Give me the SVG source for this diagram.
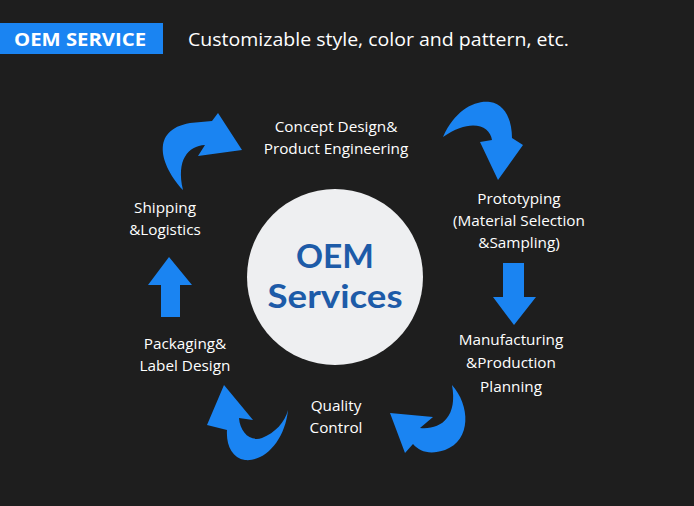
<svg xmlns="http://www.w3.org/2000/svg" width="694" height="506" viewBox="0 0 694 506">
<style>
.lbl{font-family:"Open Sans","Noto Sans",sans-serif;font-size:15.3px;fill:#ffffff;text-anchor:middle}
.arr{fill:#1a84f2}
.core{font-family:Lato,"Open Sans",sans-serif;font-weight:bold;font-size:32px;fill:#1d5ba8;text-anchor:middle}
</style>
<rect width="694" height="506" fill="#1e1e1e"/>
<g id="header">
<rect x="0" y="23" width="163" height="31" fill="#1a84f2"/>
<text x="14" y="46" font-family="'Open Sans','Noto Sans',sans-serif" font-weight="bold" font-size="18.5" fill="#ffffff" textLength="132" lengthAdjust="spacingAndGlyphs">OEM SERVICE</text>
<text x="188" y="46" font-family="'Open Sans','Noto Sans',sans-serif" font-size="18.5" fill="#ffffff" textLength="381" lengthAdjust="spacingAndGlyphs">Customizable style, color and pattern, etc.</text>
</g>
<g id="center">
<circle cx="335" cy="277" r="88" fill="#eeeff1"/>
<text class="core" x="335" y="268" textLength="78" lengthAdjust="spacingAndGlyphs">OEM</text>
<text class="core" x="335" y="308" textLength="135" lengthAdjust="spacingAndGlyphs">Services</text>
</g>
<g id="concept"><text class="lbl" x="336" y="132">Concept Design&amp;</text><text class="lbl" x="336" y="154">Product Engineering</text></g>
<g id="prototyping"><text class="lbl" x="519" y="204">Prototyping</text><text class="lbl" x="519" y="226">(Material Selection</text><text class="lbl" x="519" y="248">&amp;Sampling)</text></g>
<g id="manufacturing"><text class="lbl" x="511" y="345">Manufacturing</text><text class="lbl" x="511" y="368">&amp;Production</text><text class="lbl" x="511" y="392">Planning</text></g>
<g id="quality"><text class="lbl" x="336" y="411">Quality</text><text class="lbl" x="336" y="433">Control</text></g>
<g id="packaging"><text class="lbl" x="185" y="349">Packaging&amp;</text><text class="lbl" x="185" y="371">Label Design</text></g>
<g id="shipping"><text class="lbl" x="165" y="213">Shipping</text><text class="lbl" x="165" y="235">&amp;Logistics</text></g>
<g id="connectors">
<path class="arr" d="M183,190 C160,165 150,130 190,123 L212,121 L218,113 L242,150 L198,156 L205,145 C188,146 176,160 183,190 Z"/>
<path class="arr" d="M443,137 C455,110 475,100 490,102 C505,104 512,120 512,138 L523,145 L498,180 L480,142 L492,140 C490,125 470,118 443,137 Z"/>
<path class="arr" d="M503,263 L524,263 L524,297 L536,297 L514,325 L493,297 L503,297 Z"/>
<path class="arr" d="M452,385 C470,405 472,440 445,450 C430,455 420,452 413,444 L405,453 L390,413 L433,417 L420,428 C440,430 458,418 452,385 Z"/>
<path class="arr" d="M288,410 C285,440 265,462 245,460 C232,458 226,445 227,430 L207,425 L224,385 L253,420 L239,418 C240,432 250,442 262,438 C275,433 285,422 288,410 Z"/>
<path class="arr" d="M169,257 L192,285 L180,285 L180,317 L161,317 L161,285 L148,285 Z"/>
</g>
</svg>
